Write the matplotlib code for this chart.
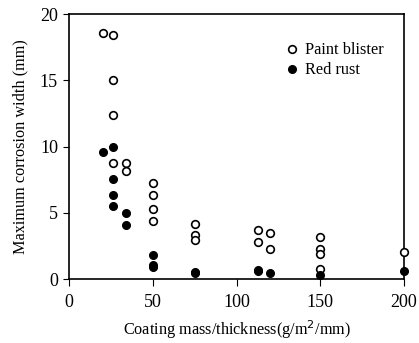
import matplotlib
matplotlib.use("Agg")
import matplotlib.pyplot as plt

plt.rcParams['font.family'] = ['Liberation Serif', 'DejaVu Serif']

# Paint blister (open circles)
blister_x = [20, 26, 26, 26, 26, 34, 34, 50, 50, 50, 50, 75, 75, 75,
             113, 113, 120, 120, 150, 150, 150, 150, 200]
blister_y = [18.6, 18.4, 15.0, 12.4, 8.75, 8.75, 8.17, 7.26, 6.35, 5.3, 4.37,
             4.2, 3.36, 2.93, 3.72, 2.8, 3.52, 2.29, 3.15, 2.27, 1.91, 0.75, 2.06]

# Red rust (filled circles)
rust_x = [20, 26, 26, 26, 26, 34, 34, 50, 50, 50, 75, 75, 113, 113, 120, 150, 200]
rust_y = [9.6, 10.0, 7.55, 6.35, 5.55, 4.96, 4.1, 1.81, 1.08, 0.9,
          0.55, 0.5, 0.6, 0.7, 0.45, 0.32, 0.62]

fig = plt.figure(figsize=(4.19, 3.43), dpi=100)
ax = fig.add_axes([0.165, 0.186, 0.799, 0.773])

ax.plot(blister_x, blister_y, 'o', mfc='white', mec='black', mew=1.2, ms=5.5,
        linestyle='none', label='Paint blister', clip_on=False, zorder=3)
ax.plot(rust_x, rust_y, 'o', mfc='black', mec='black', ms=5.5,
        linestyle='none', label='Red rust', clip_on=False, zorder=3)

ax.set_xlim(0, 200)
ax.set_ylim(0, 20)
ax.set_xticks([0, 50, 100, 150, 200])
ax.set_yticks([0, 5, 10, 15, 20])
ax.tick_params(axis='y', direction='out', length=4, pad=4, labelsize=13)
ax.tick_params(axis='x', direction='out', length=5, pad=6, labelsize=13)
for s in ax.spines.values():
    s.set_linewidth(1.2)

ax.set_xlabel('Coating mass/thickness(g/m$^2$/mm)', fontsize=11.7, labelpad=5)
ax.set_ylabel('Maximum corrosion width (mm)', fontsize=11.7, labelpad=8)

ax.legend(loc='upper right', bbox_to_anchor=(0.97, 0.93), frameon=False,
          fontsize=11.7, handletextpad=0.3, borderaxespad=0.2, labelspacing=0.25,
          handlelength=1.0)

fig.savefig('out.png', dpi=100)
